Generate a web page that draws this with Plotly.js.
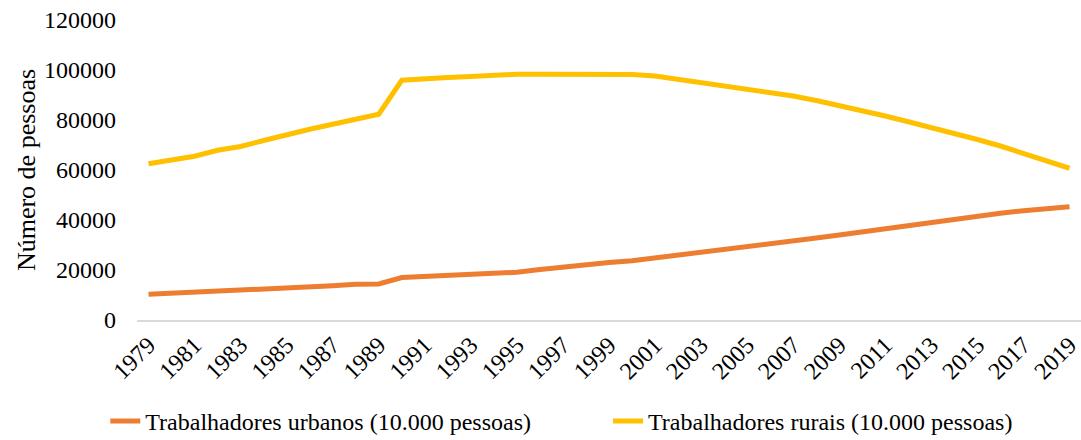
<!DOCTYPE html>
<html>
<head>
<meta charset="utf-8">
<script src="https://cdn.plot.ly/plotly-3.0.1.min.js"></script>
<style>html,body{margin:0;padding:0;background:#fff;}#chart{width:1081px;height:440px;}</style>
</head>
<body>
<div id="chart"></div>
<script>
const years = [1979,1980,1981,1982,1983,1984,1985,1986,1987,1988,1989,1990,1991,1992,1993,1994,1995,1996,1997,1998,1999,2000,2001,2002,2003,2004,2005,2006,2007,2008,2009,2010,2011,2012,2013,2014,2015,2016,2017,2018,2019];
const urbanos = [10300,10700,11100,11400,11800,12200,12700,13200,13700,14300,14400,17000,17500,17900,18300,18700,19100,20200,21300,22200,23000,23700,24800,25800,26800,28000,29200,30400,31600,32800,34000,35300,36600,37800,39000,40300,41600,42700,43700,44500,45300];
const rurais = [62500,64000,65500,67900,69400,71800,74300,76300,78300,80500,82300,95900,96600,97000,97400,97900,98300,98300,98300,98300,98300,98200,97600,96300,95000,93800,92600,91300,89600,87800,85900,83900,81600,79300,77000,74800,72200,69600,66600,63800,60700];
const names = ['Trabalhadores urbanos (10.000 pessoas)','Trabalhadores rurais (10.000 pessoas)'];
const yTitle = 'Número de pessoas';

const font = 'Liberation Serif';
const pad = '\u00a0'.repeat(12);
const traces = [
  {x: years, y: urbanos, name: names[0] + pad, type: 'scatter', mode: 'lines', line: {color: '#ED7D31', width: 5}},
  {x: years, y: rurais, name: names[1], type: 'scatter', mode: 'lines', line: {color: '#FFC000', width: 5}}
];
const layout = {
  width: 1081, height: 440,
  margin: {l: 137, r: 0, t: 20, b: 120},
  paper_bgcolor: '#fff', plot_bgcolor: '#fff',
  font: {family: font, size: 24, color: '#000'},
  showlegend: true,
  legend: {orientation: 'h', xref: 'container', yref: 'container', x: 0.5197, xanchor: 'center', y: 0.042, yanchor: 'middle', font: {family: font, size: 24, color: '#000'}, itemwidth: 30},
  xaxis: {range: [1978.5, 2019.5], tickmode: 'linear', tick0: 1979, dtick: 2, tickangle: -45, showgrid: false, zeroline: false, showline: true, linecolor: '#d9d9d9', linewidth: 1.5, ticks: '', ticklabeloverflow: 'allow', tickfont: {family: font, size: 24, color: '#000'}},
  yaxis: {range: [0, 120000], tickmode: 'linear', tick0: 0, dtick: 20000, showgrid: false, zeroline: false, showline: false, ticks: '', tickformat: 'd', ticklabelstandoff: 20, tickfont: {family: font, size: 24, color: '#000'}, title: {text: yTitle, font: {family: font, size: 26, color: '#000'}, standoff: 0}}
};
Plotly.newPlot('chart', traces, layout, {displayModeBar: false, staticPlot: true});
</script>
</body>
</html>
